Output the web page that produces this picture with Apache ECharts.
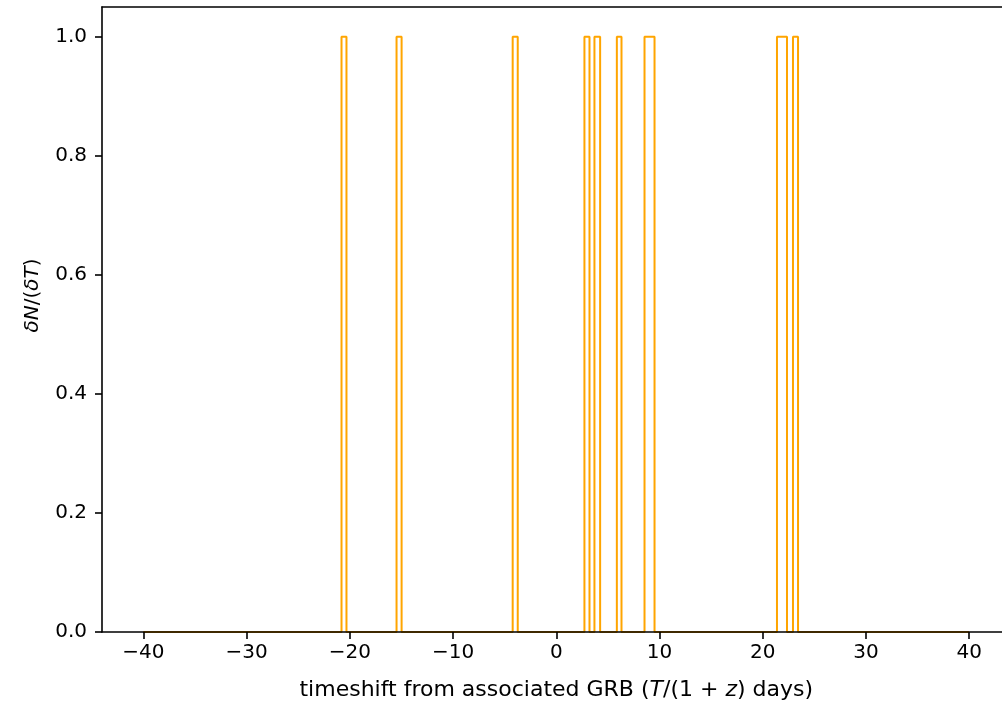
<!DOCTYPE html>
<html>
<head>
<meta charset="utf-8">
<script src="https://cdn.jsdelivr.net/npm/echarts@6/dist/echarts.min.js"></script>
<style>
  html, body { margin: 0; padding: 0; background: #ffffff; }
  #chart { width: 1002px; height: 710px; }
</style>
</head>
<body>
<div id="chart"></div>
<script>
// Histogram range and the occupied bins (left edge, right edge, count)
const histRange = [-40, 40];
const binLeft  = [-20.80, -15.47, -4.22, 2.73, 3.70, 5.87, 8.55, 21.38, 22.93];
const binRight = [-20.32, -14.98, -3.73, 3.22, 4.25, 6.32, 9.52, 22.35, 23.42];
const counts   = [1, 1, 1, 1, 1, 1, 1, 1, 1];

// Axis ticks
const xTicks = [-40, -30, -20, -10, 0, 10, 20, 30, 40];
const yTicks = [0.0, 0.2, 0.4, 0.6, 0.8, 1.0];

// Step outline of the histogram (histtype = "step")
const stepPts = [[histRange[0], 0]];
for (let i = 0; i < binLeft.length; i++) {
  stepPts.push([binLeft[i], 0]);
  stepPts.push([binLeft[i], counts[i]]);
  stepPts.push([binRight[i], counts[i]]);
  stepPts.push([binRight[i], 0]);
}
stepPts.push([histRange[1], 0]);

const FONT = 'DejaVu Sans';
const FS = 20;
const minus = v => String(v).replace('-', '\u2212');
const richText = {
  n: { fontFamily: FONT, fontSize: FS, color: '#000' },
  i: { fontFamily: FONT, fontSize: FS, color: '#000', fontStyle: 'italic' }
};
const xRich = {
  n: { fontFamily: FONT, fontSize: 22, color: '#000' },
  i: { fontFamily: FONT, fontSize: 22, color: '#000', fontStyle: 'italic' }
};
const spine = { color: '#000', width: 1.6 };

const chart = echarts.init(document.getElementById('chart'), null, { renderer: 'canvas' });
chart.setOption({
  backgroundColor: '#ffffff',
  animation: false,
  grid: { left: 102, top: 7, width: 908.5, bottom: 78, outerBoundsMode: 'none', containLabel: false },
  xAxis: [{
    type: 'value', min: -44, max: 44, z: 5,
    position: 'bottom',
    splitLine: { show: false },
    axisLine: { show: true, onZero: false, lineStyle: spine },
    axisTick: { show: true, customValues: xTicks, length: 7, inside: false, lineStyle: spine },
    axisLabel: {
      customValues: xTicks, margin: 11, color: '#000',
      fontFamily: FONT, fontSize: FS, formatter: v => minus(v)
    },
    name: '{n|timeshift from associated GRB (}{i|T}{n|/(1 + }{i|z}{n|) days)}',
    nameLocation: 'middle', nameGap: 47,
    nameTextStyle: { rich: xRich }
  }, {
    type: 'value', min: -44, max: 44, position: 'top', z: 5,
    splitLine: { show: false },
    axisLine: { show: true, onZero: false, lineStyle: spine },
    axisTick: { show: false }, axisLabel: { show: false }
  }],
  yAxis: [{
    type: 'value', min: 0, max: 1.05, z: 5,
    position: 'left',
    splitLine: { show: false },
    axisLine: { show: true, onZero: false, lineStyle: spine },
    axisTick: { show: true, customValues: yTicks, length: 7, lineStyle: spine },
    axisLabel: {
      customValues: yTicks, margin: 15, color: '#000',
      fontFamily: FONT, fontSize: FS, formatter: v => Number(v).toFixed(1)
    },
    name: '{i|\u03B4N}{n|/(}{i|\u03B4T}{n|)}',
    nameLocation: 'middle', nameGap: 59, nameRotate: 90,
    nameTextStyle: { rich: richText, padding: [0, 0, 0, 48] }
  }, {
    type: 'value', min: 0, max: 1.05, position: 'right', z: 5,
    splitLine: { show: false },
    axisLine: { show: true, onZero: false, lineStyle: spine },
    axisTick: { show: false }, axisLabel: { show: false }
  }],
  series: [{
    type: 'line',
    xAxisIndex: 0, yAxisIndex: 0,
    data: stepPts,
    showSymbol: false, symbol: 'none',
    clip: false,
    z: 2,
    lineStyle: { color: '#ffa500', width: 2 }
  }]
});
</script>
</body>
</html>
